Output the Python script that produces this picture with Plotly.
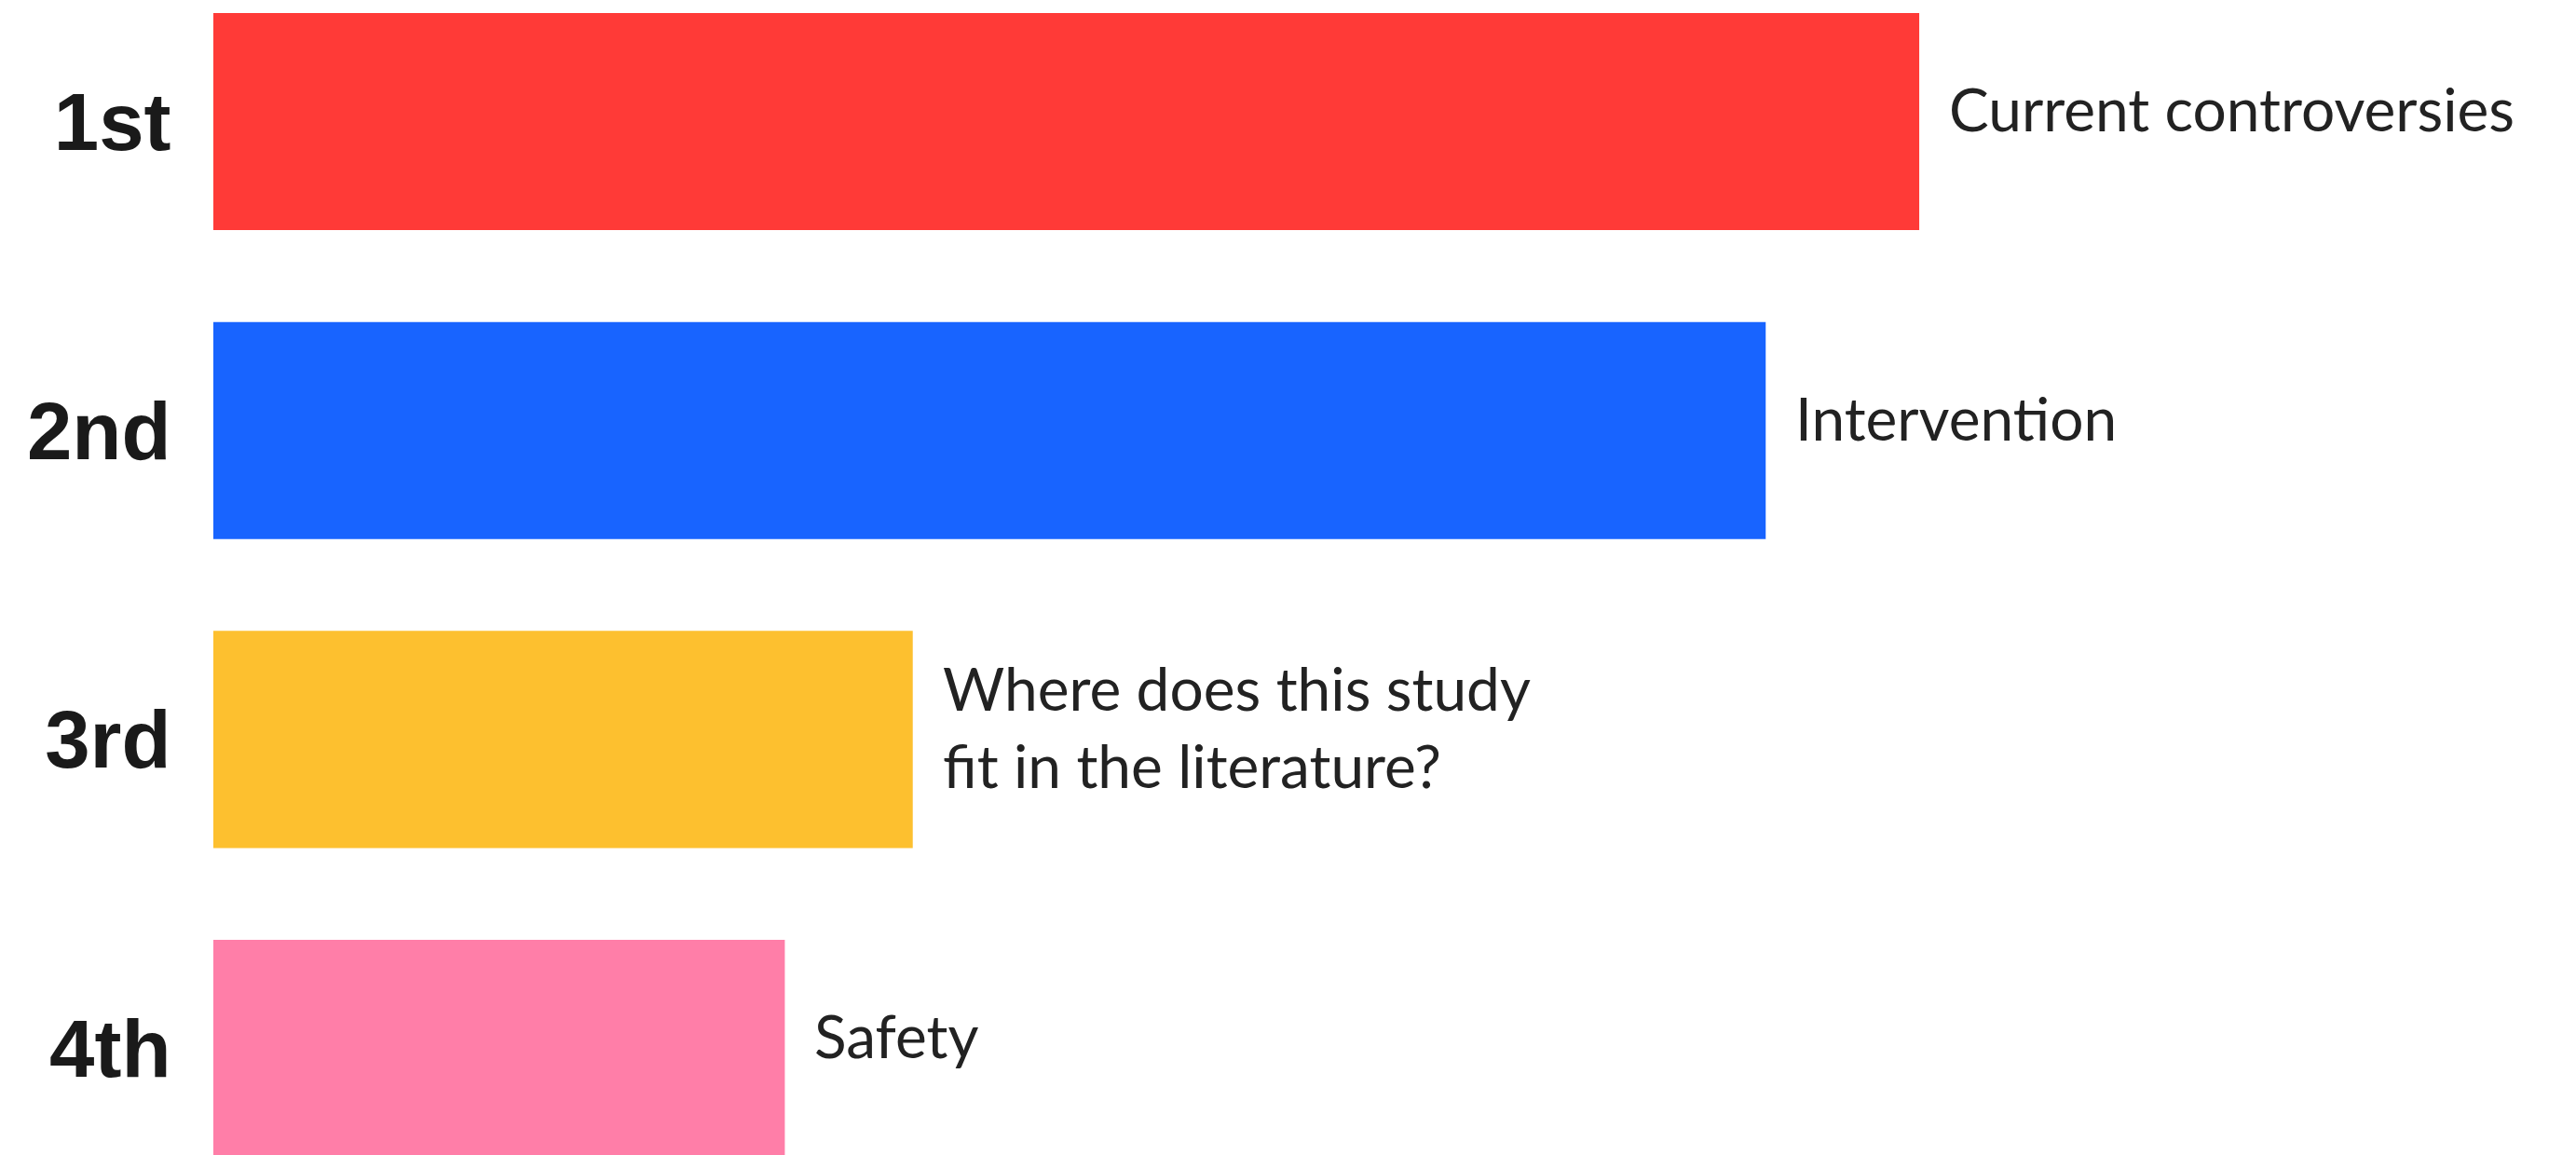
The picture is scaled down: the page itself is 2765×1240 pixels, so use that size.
import plotly.graph_objects as go

ranks = ["1st", "2nd", "3rd", "4th"]
topics = ["Current controversies", "Intervention",
          "Where does this study<br>fit in the literature?", "Safety"]
values = [100, 91, 41, 33.5]
colors = ["#FF3A37", "#1864FF", "#FDC02F", "#FF7EA8"]

fig = go.Figure()
fig.add_trace(go.Bar(
    y=ranks, x=values, orientation="h",
    marker=dict(color=colors, line=dict(width=0)),
    width=0.7025, hoverinfo="skip",
))

for r, t, v in zip(ranks, topics, values):
    fig.add_annotation(
        x=v, y=r, text=t, showarrow=False, xanchor="left", yanchor="middle",
        xshift=30, yshift=14, align="left",
        font=dict(family="Lato", size=64, color="#222222"),
    )

fig.update_layout(
    width=2765, height=1240,
    margin=dict(l=229, r=0, t=0, b=0),
    paper_bgcolor="white", plot_bgcolor="white",
    showlegend=False,
)
fig.update_xaxes(range=[0, 138.5], visible=False, fixedrange=True)
fig.update_yaxes(
    range=[3.345, -0.3934], autorange=False,
    showgrid=False, zeroline=False, showline=False,
    ticks="outside", ticklen=27, tickcolor="rgba(0,0,0,0)",
    tickfont=dict(family="Liberation Sans", size=87, color="#1a1a1a", weight="bold"),
)
fig.update_traces(cliponaxis=True)

fig.write_html("out.html")
